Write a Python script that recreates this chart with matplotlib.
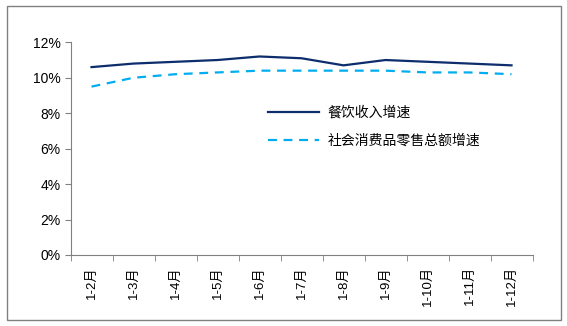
import matplotlib
matplotlib.use("Agg")
import matplotlib.pyplot as plt
from matplotlib.patches import Rectangle
import numpy as np

plt.rcParams["font.family"] = ["Liberation Sans", "Noto Sans CJK SC", "DejaVu Sans"]

months = ["1-2月", "1-3月", "1-4月", "1-5月", "1-6月", "1-7月",
          "1-8月", "1-9月", "1-10月", "1-11月", "1-12月"]
catering = [10.6, 10.8, 10.9, 11.0, 11.2, 11.1, 10.7, 11.0, 10.9, 10.8, 10.7]
retail = [9.5, 10.0, 10.2, 10.3, 10.4, 10.4, 10.4, 10.4, 10.3, 10.3, 10.2]

fig = plt.figure(figsize=(5.67, 3.26), dpi=100)
fig.patches.append(Rectangle((7 / 567, 6 / 326), 554 / 567, 314 / 326,
                             transform=fig.transFigure, fill=False,
                             edgecolor="#808080", linewidth=1.0))

ax = fig.add_axes([70.5 / 567, 1 - 255 / 326, 462 / 567, 212.7 / 326])
x = np.arange(len(months))
ax.plot(x, catering, color="#0d2d6c", linewidth=1.6, label="餐饮收入增速")
ax.plot(x, retail, color="#00aeef", linewidth=1.6, linestyle=(0, (4, 3)),
        label="社会消费品零售总额增速")

ax.set_xlim(-0.5, len(months) - 0.5)
ax.set_ylim(0, 12)
ax.set_yticks(np.arange(0, 13, 2))
ax.set_yticklabels([f"{v}%" for v in range(0, 13, 2)], fontsize=10)
ax.set_xticks(x)
ax.set_xticklabels(months, rotation=90, fontsize=9.5,
                   family=["Liberation Sans", "Noto Sans CJK SC"])
ax.set_xticks(np.arange(-0.5, len(months)), minor=True)
ax.tick_params(axis="x", which="major", length=0, pad=8)
ax.tick_params(axis="x", which="minor", length=4, color="#808080")
ax.tick_params(axis="y", length=4, color="#808080", pad=3)

for s in ("top", "right"):
    ax.spines[s].set_visible(False)
for s in ("left", "bottom"):
    ax.spines[s].set_color("#808080")

leg = ax.legend(loc="upper left", bbox_to_anchor=(0.40, 0.76), frameon=False,
                handlelength=3.7, labelspacing=1.0, handletextpad=0.6,
                prop={"family": ["Noto Sans CJK SC"], "size": 10})

fig.savefig("out.png", dpi=100)
